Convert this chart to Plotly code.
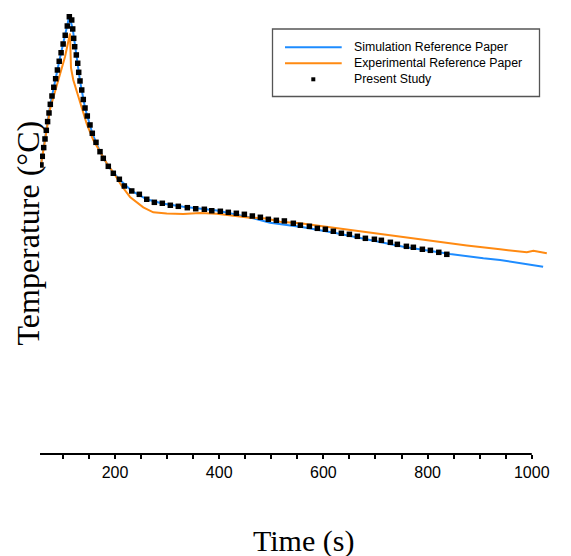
import plotly.graph_objects as go

# ---------------- data (time in s, temperature in °C) ----------------
sim_time = [57.9, 75.8, 92.9, 112.3, 118.8, 125.7, 132.8, 142.4, 156.4, 171.2, 187.1, 208.3,
            232.1, 260.9, 290.8, 331.1, 395.3, 427.1, 459.2, 497.6, 561.5, 625.7, 689.6,
            753.5, 843.2, 875.3, 907.1, 939.2, 971.3, 1003.1, 1021.8]
sim_temp = [361.3, 437.1, 490.9, 547.5, 531.3, 498.8, 466.3, 432.5, 400.9, 377.9, 359.6, 343.4,
            328.8, 318.4, 313.1, 309.1, 304.4, 300.0, 295.6, 289.1, 283.4, 275.9, 267.5,
            259.1, 250.0, 246.9, 244.6, 242.5, 239.1, 236.3, 234.1]

exp_time = [57.9, 65.6, 75.2, 84.8, 94.4, 104.0, 113.6, 115.5, 119.9, 126.5, 136.1, 145.7,
            158.3, 171.2, 184.1, 200.0, 212.9, 228.8, 254.3, 273.5, 299.3, 331.1, 363.2,
            395.3, 427.1, 459.2, 491.3, 516.8, 555.2, 619.1, 683.3, 747.2, 811.1, 875.3,
            939.2, 990.5, 1003.1, 1028.9]
exp_temp = [361.3, 392.5, 430.9, 452.9, 473.8, 496.6, 525.6, 482.5, 467.5, 453.8, 432.5, 412.5,
            392.5, 377.9, 363.4, 348.8, 335.0, 321.3, 308.4, 302.1, 300.6, 300.0, 301.3,
            300.4, 298.1, 295.4, 294.4, 290.4, 288.4, 282.8, 277.1, 271.9, 266.3, 260.6,
            255.9, 252.1, 254.1, 250.9]

present_time = [57.9, 60.4, 63.1, 65.6, 68.1, 70.6, 73.3, 75.8, 79.0, 82.5, 86.0, 89.4, 92.9,
                96.5, 100.4, 104.4, 108.4, 112.3,
                116.9, 118.8, 120.7, 122.6, 125.7, 128.4, 130.3, 132.8, 136.1, 139.1, 142.4,
                146.8, 152.0, 156.4, 163.5, 171.2, 177.5, 187.1, 196.7, 208.3, 217.9, 232.1,
                246.7, 260.9, 275.5, 290.8, 306.2, 321.5, 338.8, 354.9, 371.5, 385.7, 402.2,
                417.5, 432.9, 448.3, 463.6, 479.0, 494.3, 509.7, 525.1, 542.3, 555.8, 573.1,
                588.4, 603.8, 619.1, 634.5, 649.9, 665.2, 680.6, 697.9, 711.3, 728.6, 742.0,
                759.3, 772.7, 790.0, 805.4, 821.5, 836.9]
present_temp = [361.3, 372.1, 383.0, 393.8, 404.6, 415.5, 426.3, 437.1, 447.5, 458.4, 469.1,
                480.0, 490.9, 501.6, 512.5, 523.4, 535.0, 546.6,
                542.5, 531.3, 519.6, 509.1, 498.8, 488.4, 477.1, 466.3, 455.0, 443.1, 432.5,
                422.5, 411.3, 400.9, 389.6, 377.9, 369.6, 359.6, 350.9, 343.4, 335.0, 328.8,
                324.6, 318.4, 314.6, 313.4, 310.9, 309.6, 307.9, 306.6, 305.9, 304.1, 303.4,
                302.1, 300.9, 299.6, 297.5, 295.9, 293.4, 292.1, 291.3, 288.4, 285.9, 284.6,
                282.1, 280.9, 278.4, 275.9, 274.6, 272.1, 269.6, 268.4, 267.1, 264.6, 262.1,
                259.6, 258.4, 255.9, 254.6, 252.1, 249.6]

series_names = ["Simulation Reference Paper", "Experimental Reference Paper", "Present Study"]
x_tick_vals = [100, 150, 200, 250, 300, 350, 400, 450, 500, 550, 600, 650, 700, 750, 800,
               850, 900, 950, 1000]
x_tick_text = ["", "", "200", "", "", "", "400", "", "", "", "600", "", "", "", "800",
               "", "", "", "1000"]
x_title = "Time (s)"
y_title = "Temperature (°C)"

# ---------------- style ----------------
BLUE = "#1E8CFF"
ORANGE = "#FF8A12"
SERIF = "Liberation Serif, Times New Roman, serif"
SANS = "Liberation Sans, Arial, sans-serif"

X_RANGE = [56, 1035]
X_AXIS_END = 1000
Y_RANGE = [0, 555]

W, H = 571, 556
ML, MR, MT, MB = 40, 21, 10, 102
PW, PH = W - ML - MR, H - MT - MB

def px_x(p):  # pixel -> paper (x)
    return (p - ML) / PW

def px_y(p):  # pixel -> paper (y)
    return (H - MB - p) / PH

fig = go.Figure()
fig.add_trace(go.Scatter(x=sim_time, y=sim_temp, mode="lines", name=series_names[0],
                         line=dict(color=BLUE, width=2), showlegend=False))
fig.add_trace(go.Scatter(x=exp_time, y=exp_temp, mode="lines", name=series_names[1],
                         line=dict(color=ORANGE, width=2), showlegend=False))
fig.add_trace(go.Scatter(x=present_time, y=present_temp, mode="markers", name=series_names[2],
                         marker=dict(symbol="square", size=5.5, color="black",
                                     line=dict(width=0)), showlegend=False))

shapes = []
# x axis line (ends at 1000 while the curves run past it)
shapes.append(dict(type="line", xref="paper", yref="paper",
                   x0=0, x1=(X_AXIS_END - X_RANGE[0]) / (X_RANGE[1] - X_RANGE[0]),
                   y0=0, y1=0, line=dict(color="black", width=2)))

# custom legend
box_l, box_r, box_t, box_b = 272.5, 539.5, 29, 96.5
shapes.append(dict(type="rect", xref="paper", yref="paper",
                   x0=px_x(box_l), x1=px_x(box_r), y0=px_y(box_b), y1=px_y(box_t),
                   line=dict(color="#555555", width=1.3), fillcolor="white", layer="above"))
rows = [47.3, 63.3, 79.3]
for col, ry in zip([BLUE, ORANGE], rows[:2]):
    shapes.append(dict(type="line", xref="paper", yref="paper",
                       x0=px_x(285), x1=px_x(341.7), y0=px_y(ry), y1=px_y(ry),
                       line=dict(color=col, width=2)))
shapes.append(dict(type="rect", xref="paper", yref="paper",
                   x0=px_x(311.3), x1=px_x(315.3), y0=px_y(rows[2] + 2), y1=px_y(rows[2] - 2),
                   line=dict(width=0), fillcolor="black"))

annotations = []
for name, ry in zip(series_names, rows):
    annotations.append(dict(text=name, xref="paper", yref="paper", x=px_x(351.5), y=px_y(ry),
                            xanchor="left", yanchor="middle", showarrow=False,
                            font=dict(family=SANS, size=12.3, color="black")))
annotations.append(dict(text=x_title, xref="paper", yref="paper", x=px_x(303), y=px_y(541),
                        xanchor="center", yanchor="middle", showarrow=False,
                        font=dict(family=SERIF, size=30, color="black")))
annotations.append(dict(text=y_title, xref="paper", yref="paper", x=px_x(27.5), y=px_y(233),
                        xanchor="center", yanchor="middle", showarrow=False, textangle=-90,
                        font=dict(family=SERIF, size=32, color="black")))

fig.update_layout(
    width=W, height=H,
    margin=dict(l=ML, r=MR, t=MT, b=MB, pad=0),
    paper_bgcolor="white", plot_bgcolor="white",
    showlegend=False,
    shapes=shapes, annotations=annotations,
    xaxis=dict(range=X_RANGE, showgrid=False, zeroline=False, showline=False,
               tickmode="array", tickvals=x_tick_vals, ticktext=x_tick_text,
               ticks="outside", ticklen=4, tickwidth=1.5, tickcolor="black",
               tickfont=dict(family=SANS, size=16, color="black")),
    yaxis=dict(range=Y_RANGE, visible=False),
)

fig.write_html("out.html")
